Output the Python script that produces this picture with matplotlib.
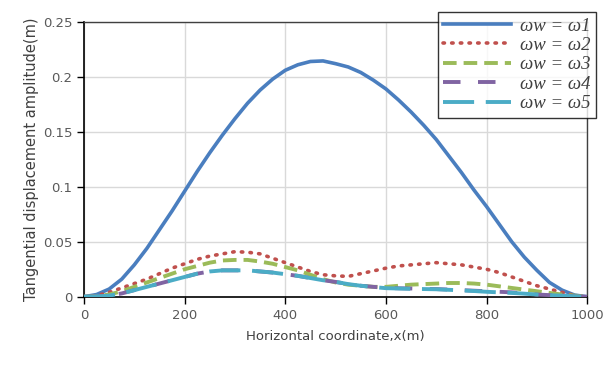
import matplotlib
matplotlib.use('Agg')
import matplotlib.pyplot as plt

# 水平坐标 (m)，每 25 m 读一个点
x = [0, 25, 50, 75, 100, 125, 150, 175, 200, 225, 250, 275, 300, 325, 350, 375, 400,
     425, 450, 475, 500, 525, 550, 575, 600, 625, 650, 675, 700, 725, 750, 775, 800,
     825, 850, 875, 900, 925, 950, 975, 1000]

# 各工况切向位移幅值 (m)
w1 = [0, 0.002, 0.007, 0.016, 0.029, 0.044, 0.061, 0.078, 0.096, 0.114, 0.131, 0.147,
      0.162, 0.176, 0.188, 0.198, 0.206, 0.211, 0.214, 0.2145, 0.212, 0.209, 0.204,
      0.197, 0.189, 0.179, 0.168, 0.156, 0.143, 0.128, 0.113, 0.097, 0.082, 0.066,
      0.050, 0.036, 0.024, 0.013, 0.006, 0.0015, 0]
w2 = [0, 0.001, 0.004, 0.008, 0.012, 0.016, 0.021, 0.026, 0.030, 0.034, 0.037, 0.039,
      0.041, 0.0405, 0.039, 0.035, 0.031, 0.027, 0.023, 0.020, 0.019, 0.0185, 0.021,
      0.0235, 0.026, 0.028, 0.029, 0.030, 0.031, 0.030, 0.029, 0.027, 0.025, 0.022,
      0.018, 0.014, 0.010, 0.007, 0.004, 0.0012, 0]
w3 = [0, 0.0005, 0.002, 0.005, 0.009, 0.013, 0.017, 0.021, 0.025, 0.028, 0.031, 0.033,
      0.0335, 0.0335, 0.032, 0.030, 0.027, 0.024, 0.020, 0.016, 0.013, 0.011, 0.010,
      0.009, 0.009, 0.010, 0.011, 0.0115, 0.012, 0.0125, 0.0125, 0.012, 0.011, 0.0095,
      0.008, 0.0065, 0.005, 0.0035, 0.002, 0.001, 0]
w4 = [0, 0.0003, 0.001, 0.003, 0.006, 0.009, 0.012, 0.015, 0.018, 0.021, 0.023, 0.024,
      0.024, 0.024, 0.023, 0.022, 0.0205, 0.019, 0.017, 0.015, 0.0135, 0.0115, 0.010,
      0.009, 0.008, 0.0077, 0.0075, 0.0072, 0.007, 0.0065, 0.006, 0.0055, 0.005,
      0.0045, 0.004, 0.003, 0.002, 0.0015, 0.001, 0.0003, 0]
w5 = [0, 0.0003, 0.001, 0.003, 0.006, 0.009, 0.012, 0.015, 0.018, 0.021, 0.023, 0.024,
      0.024, 0.024, 0.023, 0.022, 0.0205, 0.019, 0.017, 0.015, 0.0135, 0.0115, 0.010,
      0.0088, 0.0078, 0.0075, 0.0072, 0.007, 0.0068, 0.0063, 0.0058, 0.0052, 0.0045,
      0.004, 0.0035, 0.0028, 0.002, 0.0014, 0.001, 0.0003, 0]

labels = ['ωw = ω1', 'ωw = ω2', 'ωw = ω3', 'ωw = ω4', 'ωw = ω5']
xticks = [0, 200, 400, 600, 800, 1000]
yticks = [0, 0.05, 0.1, 0.15, 0.2, 0.25]
yticklabels = ['0', '0.05', '0.1', '0.15', '0.2', '0.25']

fig = plt.figure(figsize=(6.13, 3.65), dpi=100)
ax = fig.add_axes([0.137, 0.187, 0.821, 0.753])

ax.plot(x, w1, color='#4A7EBF', lw=2.6, linestyle='-', label=labels[0], zorder=3)
ax.plot(x, w2, color='#C0504D', lw=2.6, linestyle=(0, (0.4, 2.0)),
        dash_capstyle='round', label=labels[1], zorder=3)
ax.plot(x, w3, color='#9BBB59', lw=2.8, linestyle=(0, (3.5, 1.8)), label=labels[2], zorder=3)
ax.plot(x, w4, color='#8064A2', lw=2.8, linestyle=(0, (4.5, 4.5)), label=labels[3], zorder=3)
ax.plot(x, w5, color='#4BACC6', lw=2.8, linestyle=(0, (8, 3)), label=labels[4], zorder=3)

ax.set_xlim(0, 1000)
ax.set_ylim(0, 0.25)
ax.set_xticks(xticks)
ax.set_yticks(yticks)
ax.set_yticklabels(yticklabels)
ax.grid(True, color='#D9D9D9', lw=1.0)
ax.set_axisbelow(True)

for s in ['left', 'bottom']:
    ax.spines[s].set_color('black')
    ax.spines[s].set_linewidth(1.2)
for s in ['top', 'right']:
    ax.spines[s].set_color('#404040')
    ax.spines[s].set_linewidth(1.0)

ax.tick_params(axis='both', direction='out', length=5, width=1,
               colors='black', labelcolor='#595959', labelsize=9.5)
ax.set_xlabel('Horizontal coordinate,x(m)', fontsize=9.5, color='#404040', labelpad=6)
ax.set_ylabel('Tangential displacement amplitude(m)', fontsize=10.5, color='#404040', labelpad=3)

leg = ax.legend(loc='upper right', bbox_to_anchor=(0.988, 0.993),
                bbox_transform=fig.transFigure, frameon=True, fancybox=False,
                edgecolor='black', handlelength=3.6, handletextpad=0.5,
                labelspacing=0.12, borderpad=0.3,
                prop={'family': 'Liberation Serif', 'style': 'italic', 'size': 13.5})
leg.get_frame().set_linewidth(1.0)
for t in leg.get_texts():
    t.set_color('#404040')

plt.savefig('out.png', dpi=100)
plt.close()
